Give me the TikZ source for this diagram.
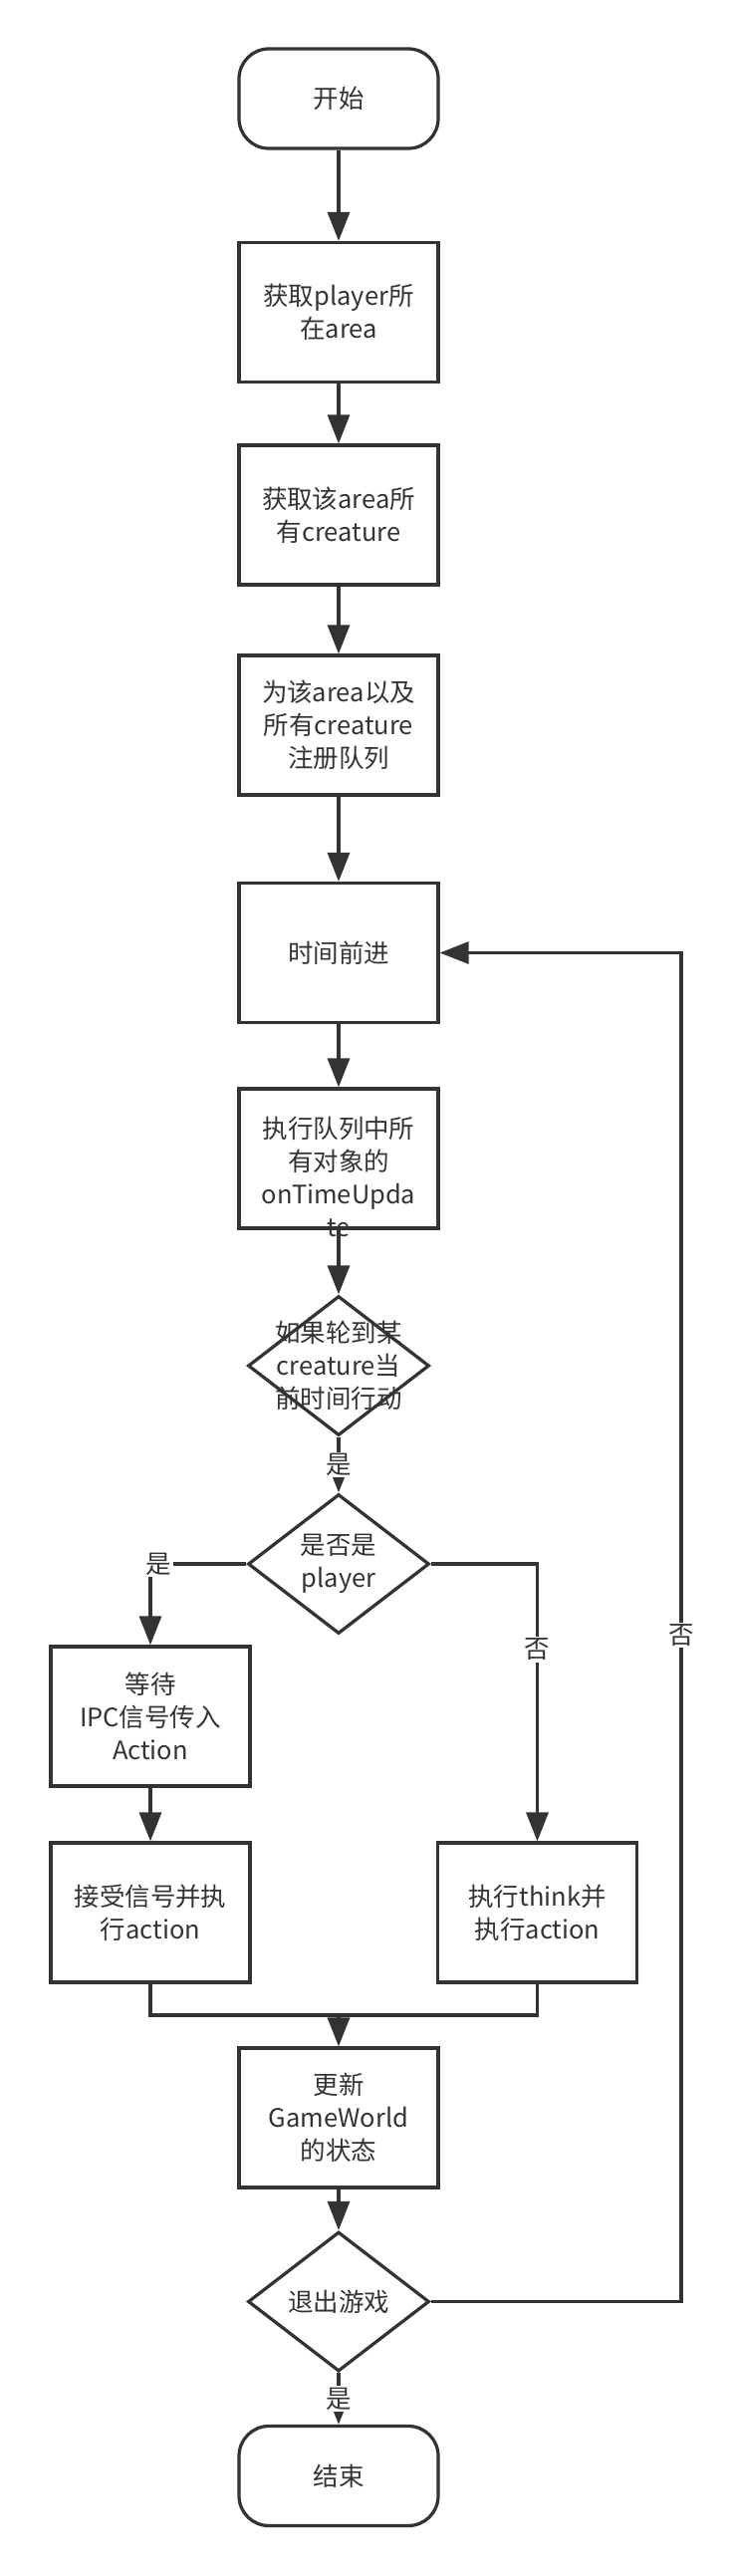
\documentclass[tikz,border=0pt]{standalone}
\usepackage{fontspec}
\setmainfont{Noto Sans CJK SC}
\usetikzlibrary{shapes.geometric,arrows.meta}
\definecolor{ink}{RGB}{51, 51, 51}

\tikzset{
    base/.style    ={draw=ink, line width=0.065cm, text=ink, align=center, inner sep=0pt,
                     font=\fontsize{14.5pt}{18.8pt}\selectfont},
    terminal/.style={base, rounded corners=0.6cm, minimum width=4cm, minimum height=2cm},
    proc/.style    ={base, minimum width=4cm, minimum height=2.8cm},
    decide/.style  ={base, diamond, minimum width=3.64cm, minimum height=2.8cm},
    flow/.style    ={draw=ink, line width=0.065cm, -{Triangle[length=0.58cm, width=0.44cm]}},
    joint/.style   ={draw=ink, line width=0.065cm},
    tag/.style     ={fill=white, text=ink, inner sep=1pt, font=\fontsize{14.5pt}{18pt}\selectfont},
}

\begin{document}
\begin{tikzpicture}
        \useasboundingbox (0.00, 0.00) rectangle (14.68,-51.72);
        % main column
        \node[terminal] (start)   at ( 6.80, -1.98) {开始};
        \node[proc]     (getarea) at ( 6.80, -6.27) {获取player所\\在area};
        \node[proc]     (getcre)  at ( 6.80,-10.34) {获取该area所\\有creature};
        \node[proc]     (regq)    at ( 6.80,-14.56) {为该area以及\\所有creature\\注册队列};
        \node[proc]     (tick)    at ( 6.80,-19.13) {时间前进};
        \node[proc, label={[base, draw=none, yshift=-0.36cm]center:执行队列中所\\有对象的\\onTimeUpda\\te}]
                        (runq)    at ( 6.80,-23.26) {};
        \node[decide, label={[base, draw=none]center:如果轮到某\\creature当\\前时间行动}]
                        (turn)    at ( 6.80,-27.42) {};
        \node[decide, label={[base, draw=none]center:是否是\\player}]
                        (isplay)  at ( 6.80,-31.40) {};
        % branches
        \node[proc]     (waitipc) at ( 3.02,-34.46) {等待\\IPC信号传入\\Action};
        \node[proc]     (recv)    at ( 3.02,-38.40) {接受信号并执\\行action};
        \node[proc]     (think)   at (10.79,-38.40) {执行think并\\执行action};
        \coordinate     (merge)   at ( 6.80,-40.46);
        \node[proc]     (update)  at ( 6.80,-42.52) {更新\\GameWorld\\的状态};
        \node[decide, label={[base, draw=none]center:退出游戏}]
                        (quit)    at ( 6.80,-46.21) {};
        \node[terminal] (stop)    at ( 6.80,-49.71) {结束};
        \coordinate     (loop)    at (13.68,-46.21);

        \draw[flow]  (start)   -- (getarea);
        \draw[flow]  (getarea) -- (getcre);
        \draw[flow]  (getcre)  -- (regq);
        \draw[flow]  (regq)    -- (tick);
        \draw[flow]  (tick)    -- (runq);
        \draw[flow]  (runq)    -- (turn);
        \draw[flow]  (turn)    -- (isplay) node[tag, midway] {是};
        \draw[flow]  (isplay.west) -| (waitipc.north) node[tag, pos=0.5, xshift=0.16cm] {是};
        \draw[flow]  (isplay.east) -| (think.north)   node[tag, pos=0.654] {否};
        \draw[flow]  (waitipc) -- (recv);
        \draw[joint] (recv.south) |- (merge) -| (think.south);
        \draw[flow]  (merge)   -- (update);
        \draw[flow]  (update)  -- (quit);
        \draw[flow]  (quit)    -- (stop) node[tag, midway] {是};
        \draw[flow]  (quit.east) -- (loop) |- (tick.east) node[tag, pos=0.247] {否};
\end{tikzpicture}
\end{document}
